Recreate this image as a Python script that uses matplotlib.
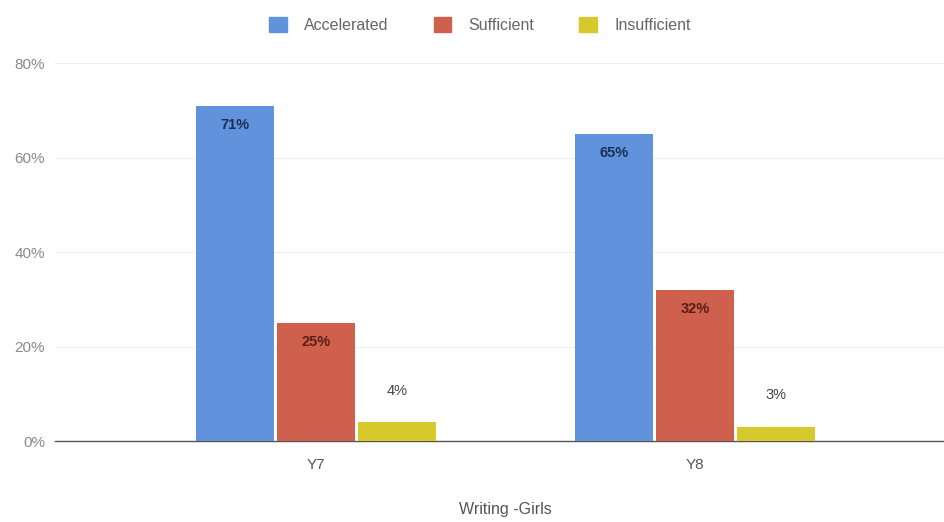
import matplotlib.pyplot as plt
import numpy as np
from matplotlib.patches import Patch

plt.rcParams['font.family'] = ['Liberation Sans', 'DejaVu Sans']

years = ["Y7", "Y8"]
series = ["Accelerated", "Sufficient", "Insufficient"]
accelerated = [71, 65]
sufficient = [25, 32]
insufficient = [4, 3]
colors = ["#6193dc", "#cf604d", "#d6c92c"]
label_colors = ["#1c2f5a", "#5a1f16", "#444444"]

fig = plt.figure(figsize=(9.45, 5.22), dpi=100)
ax = fig.add_axes([0.058, 0.155, 0.942, 0.724])

x = np.arange(len(years))
w = 0.206
step = 0.214
for i, (vals, c) in enumerate(zip([accelerated, sufficient, insufficient], colors)):
    xs = x + (i - 1) * step
    bars = ax.bar(xs, vals, width=w, color=c, zorder=3)
    for b, v in zip(bars, vals):
        cx = b.get_x() + b.get_width() / 2
        if v >= 10:
            ax.text(cx, v - 2.6, f"{v}%", ha="center", va="top", fontsize=10.5,
                    fontweight="bold", color=label_colors[i], zorder=4)
        else:
            ax.text(cx, v + 5.2, f"{v}%", ha="center", va="bottom", fontsize=10.5,
                    color=label_colors[i], zorder=4)

ax.set_xlim(-0.69, 1.66)
ax.set_ylim(0, 80)
ax.set_yticks([0, 20, 40, 60, 80])
ax.set_yticklabels(["0%", "20%", "40%", "60%", "80%"])
ax.set_xticks(x)
ax.set_xticklabels(years)
ax.tick_params(length=0, colors="#8a8a8a", labelsize=11)
ax.tick_params(axis="y", pad=7)
ax.tick_params(axis="x", pad=12, colors="#555555")
ax.grid(axis="y", color="#eeeeee", linewidth=0.8, zorder=0)
for s in ["top", "right", "left"]:
    ax.spines[s].set_visible(False)
ax.spines["bottom"].set_color("#555555")
ax.spines["bottom"].set_linewidth(1.0)

handles = [Patch(color=c) for c in colors]
fig.legend(handles, series, loc="upper center", bbox_to_anchor=(0.508, 0.995), ncol=3,
           frameon=False, fontsize=11.5, handlelength=1.1, handleheight=1.1,
           columnspacing=2.8, handletextpad=1.1, labelcolor="#666666")

fig.text(0.535, 0.01, "Writing -Girls", ha="center", va="bottom", fontsize=11.5, color="#555555")

fig.savefig("out.png", dpi=100)
